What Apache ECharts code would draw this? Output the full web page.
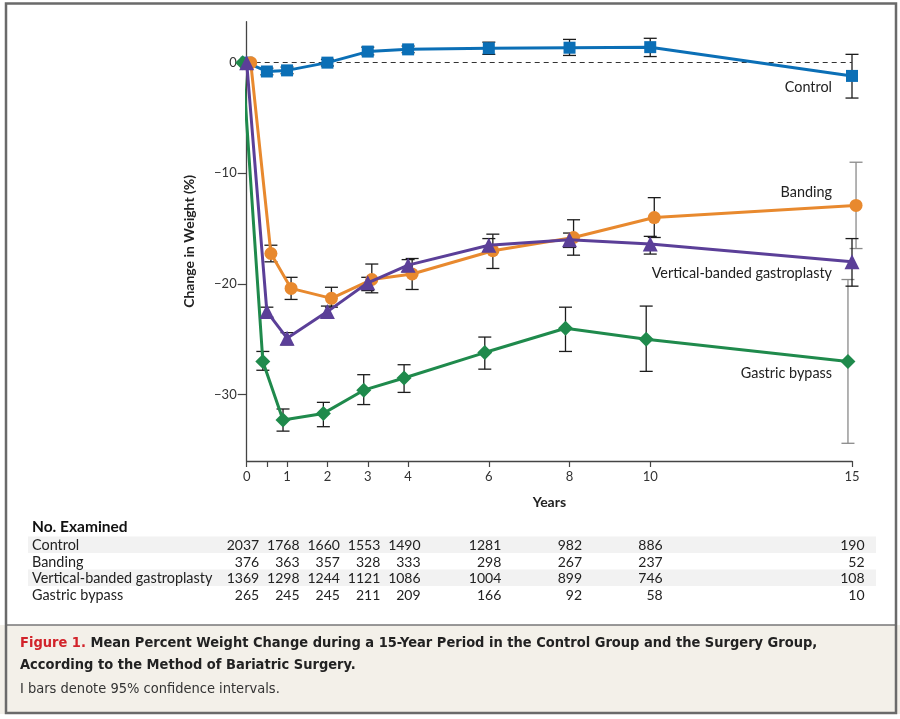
<!DOCTYPE html>
<html><head><meta charset="utf-8">
<script src="https://cdn.jsdelivr.net/npm/echarts@6/dist/echarts.min.js"></script>
<style>html,body{margin:0;padding:0;background:#fff}#c{width:900px;height:719px}</style>
</head><body><div id="c"></div>
<script>
// ---------- data ----------
const years = [0, 0.5, 1, 2, 3, 4, 6, 8, 10, 15];
const xTickValues = [0, 0.5, 1, 2, 3, 4, 6, 8, 10, 15];
const xLabelValues = [0, 1, 2, 3, 4, 6, 8, 10, 15];
const yTickValues = [-30, -20, -10, 0];
const seriesNames = ['Control', 'Banding', 'Vertical-banded gastroplasty', 'Gastric bypass'];

const controlMean = [0, -0.8, -0.7, 0.0, 1.0, 1.2, 1.3, 1.35, 1.4, -1.2];
const controlLo   = [0, -1.1, -1.0, -0.3, 0.7, 0.9, 0.75, 0.65, 0.55, -3.2];
const controlHi   = [0, -0.5, -0.4, 0.3, 1.4, 1.5, 1.85, 2.1, 2.2, 0.75];

const bandingMean = [0, -17.25, -20.4, -21.3, -19.6, -19.1, -17.0, -15.8, -14.0, -12.9];
const bandingLo   = [0, -18.0, -21.4, -22.1, -20.8, -20.5, -18.6, -17.4, -15.8, -16.8];
const bandingHi   = [0, -16.5, -19.4, -20.3, -18.2, -17.7, -15.5, -14.2, -12.2, -9.0];

const vbgMean = [0, -22.5, -24.9, -22.5, -19.9, -18.3, -16.5, -16.0, -16.4, -18.0];
const vbgLo   = [0, -23.0, -25.5, -23.1, -20.6, -18.9, -17.1, -16.7, -17.3, -20.2];
const vbgHi   = [0, -22.1, -24.4, -22.0, -19.4, -17.8, -15.9, -15.4, -15.7, -15.9];

const bypassMean = [0, -27.0, -32.3, -31.7, -29.6, -28.5, -26.2, -24.0, -25.0, -27.0];
const bypassLo   = [0, -27.8, -33.3, -32.9, -30.9, -29.8, -27.7, -26.1, -27.9, -34.4];
const bypassHi   = [0, -26.1, -31.3, -30.7, -28.2, -27.3, -24.8, -22.1, -22.0, -19.6];

const tableTitle = 'No. Examined';
const tableYears = [0, 1, 2, 3, 4, 6, 8, 10, 15];
const controlN = [2037, 1768, 1660, 1553, 1490, 1281, 982, 886, 190];
const bandingN = [376, 363, 357, 328, 333, 298, 267, 237, 52];
const vbgN     = [1369, 1298, 1244, 1121, 1086, 1004, 899, 746, 108];
const bypassN  = [265, 245, 245, 211, 209, 166, 92, 58, 10];

const captionRed = 'Figure 1.';
const captionLine1 = ' Mean Percent Weight Change during a 15-Year Period in the Control Group and the Surgery Group,';
const captionLine2 = 'According to the Method of Bariatric Surgery.';
const captionLine3 = 'I bars denote 95% confidence intervals.';
const xAxisName = 'Years';
const yAxisName = 'Change in Weight (%)';

// ---------- styles ----------
const FONT = 'Lato, "Open Sans", sans-serif';
const CAPFONT = '"Liberation Sans Narrow", "DejaVu Sans Condensed", sans-serif';
const groups = [
  {name: seriesNames[0], mean: controlMean, lo: controlLo, hi: controlHi, color: '#0b6fb6', symbol: 'rect', size: 12, dodge: 0, gray: []},
  {name: seriesNames[3], mean: bypassMean, lo: bypassLo, hi: bypassHi, color: '#1f8a4c', symbol: 'diamond', size: 15, dodge: -0.1, gray: [15]},
  {name: seriesNames[1], mean: bandingMean, lo: bandingLo, hi: bandingHi, color: '#e8892e', symbol: 'circle', size: 13, dodge: 0.1, gray: [15]},
  {name: seriesNames[2], mean: vbgMean, lo: vbgLo, hi: vbgHi, color: '#5b3f98', symbol: 'triangle', size: 15, dodge: 0, gray: []}
];

function errRender(g) {
  return function (params, api) {
    const t = api.value(0);
    const x = t + g.dodge;
    const p1 = api.coord([x, api.value(1)]);
    const p2 = api.coord([x, api.value(2)]);
    const c = g.gray.indexOf(t) >= 0 ? '#8a8a8a' : '#1c1c1c';
    const w = 6.5, lw = 1.3;
    return {type: 'group', children: [
      {type: 'line', shape: {x1: p1[0], y1: p1[1], x2: p2[0], y2: p2[1]}, style: {stroke: c, lineWidth: lw}},
      {type: 'line', shape: {x1: p1[0] - w, y1: p1[1], x2: p1[0] + w, y2: p1[1]}, style: {stroke: c, lineWidth: lw}},
      {type: 'line', shape: {x1: p2[0] - w, y1: p2[1], x2: p2[0] + w, y2: p2[1]}, style: {stroke: c, lineWidth: lw}}
    ]};
  };
}

const series = [];
groups.forEach(function (g) {
  series.push({
    type: 'custom', name: g.name + ' CI', z: 1, clip: false, silent: true,
    renderItem: errRender(g),
    encode: {x: 0, y: [1, 2]},
    data: years.map(function (t, i) { return [t, g.lo[i], g.hi[i]]; }).filter(function (d) { return d[1] !== d[2]; })
  });
});
groups.forEach(function (g, k) {
  const s = {
    type: 'line', name: g.name, z: 3 + k, clip: false, silent: true,
    symbol: g.symbol, symbolSize: g.size, showAllSymbol: true,
    lineStyle: {color: g.color, width: 3},
    itemStyle: {color: g.color, borderWidth: 0},
    data: years.map(function (t, i) { return [t + g.dodge, g.mean[i]]; })
  };
  if (k === 0) {
    s.markLine = {
      silent: true, symbol: 'none', z: 2,
      lineStyle: {color: '#333', type: [5, 4], width: 1},
      label: {show: false},
      data: [{yAxis: 0}]
    };
  }
  series.push(s);
});

const minus = function (v) { return String(v).replace('-', '\u2212'); };

const chart = echarts.init(document.getElementById('c'), null, {renderer: 'canvas'});
chart.setOption({
  backgroundColor: '#ffffff',
  animation: false,
  grid: {left: 246.7, right: 48, top: 21.7, bottom: 258, outerBoundsMode: 'none', containLabel: false},
  xAxis: {
    type: 'value', min: 0, max: 15,
    name: xAxisName, nameLocation: 'middle', nameGap: 34,
    nameTextStyle: {fontFamily: FONT, fontWeight: 'bold', fontSize: 14, color: '#222'},
    axisLine: {show: true, onZero: false, lineStyle: {color: '#444', width: 1.3}},
    axisTick: {show: true, length: 6, customValues: xTickValues, lineStyle: {color: '#444', width: 1.2}},
    axisLabel: {customValues: xLabelValues, margin: 9.5, fontFamily: FONT, fontSize: 13, color: '#333'},
    splitLine: {show: false}
  },
  yAxis: {
    type: 'value', min: -36, max: 3.7,
    name: yAxisName, nameLocation: 'middle', nameGap: 50, nameRotate: 90,
    nameTextStyle: {fontFamily: FONT, fontWeight: 'bold', fontSize: 14, color: '#222'},
    axisLine: {show: true, onZero: false, lineStyle: {color: '#444', width: 1.3}},
    axisTick: {show: true, length: 9, customValues: yTickValues, lineStyle: {color: '#444', width: 1.2}},
    axisLabel: {customValues: yTickValues, margin: 10, fontFamily: FONT, fontSize: 13, color: '#333', formatter: minus},
    splitLine: {show: false}
  },
  series: series
});

// ---------- annotations, table, caption ----------
const px = function (t) { return chart.convertToPixel({xAxisIndex: 0}, t); };
const graphics = [];
graphics.push({type: 'rect', z: -10, silent: true, shape: {x: 0, y: 625, width: 900, height: 90}, style: {fill: '#f3f0e9'}});
graphics.push({type: 'line', z: 50, silent: true, shape: {x1: 6, y1: 625, x2: 896, y2: 625}, style: {stroke: '#777', lineWidth: 1.5}});
graphics.push({type: 'rect', z: 50, silent: true, shape: {x: 6, y: 3.5, width: 890, height: 709.5}, style: {fill: null, stroke: '#6a6a6a', lineWidth: 2.5}});
graphics.push({type: 'rect', z: -10, silent: true, shape: {x: 0, y: 714, width: 900, height: 5}, style: {fill: '#fff'}});

const labelSpecs = [
  {text: seriesNames[0], y: 87},
  {text: seriesNames[1], y: 192},
  {text: seriesNames[2], y: 273},
  {text: seriesNames[3], y: 373}
];
labelSpecs.forEach(function (l) {
  graphics.push({type: 'text', z: 20, silent: true, x: 832, y: l.y,
    style: {text: l.text, fontFamily: FONT, fontSize: 14.4, fill: '#222', textAlign: 'right', textVerticalAlign: 'middle'}});
});

graphics.push({type: 'text', silent: true, x: 32, y: 527,
  style: {text: tableTitle, fontFamily: FONT, fontWeight: 'bold', fontSize: 15.5, fill: '#111', textVerticalAlign: 'middle'}});
const rows = [
  {name: seriesNames[0], n: controlN, y: 545, stripe: true},
  {name: seriesNames[1], n: bandingN, y: 562, stripe: false},
  {name: seriesNames[2], n: vbgN, y: 578, stripe: true},
  {name: seriesNames[3], n: bypassN, y: 595, stripe: false}
];
rows.forEach(function (r) {
  if (r.stripe) {
    graphics.push({type: 'rect', z: -5, silent: true, shape: {x: 28, y: r.y - 8.5, width: 848, height: 16.5}, style: {fill: '#f2f2f2'}});
  }
  graphics.push({type: 'text', silent: true, x: 32, y: r.y,
    style: {text: r.name, fontFamily: FONT, fontSize: 14.4, fill: '#222', textVerticalAlign: 'middle'}});
  r.n.forEach(function (v, i) {
    graphics.push({type: 'text', silent: true, x: px(tableYears[i]) + 12.5, y: r.y,
      style: {text: String(v), fontFamily: FONT, fontSize: 14, fill: '#222', textAlign: 'right', textVerticalAlign: 'middle'}});
  });
});

graphics.push({type: 'text', silent: true, x: 20, y: 643,
  style: {
    text: '{r|' + captionRed + '}{b|' + captionLine1 + '}',
    textVerticalAlign: 'middle',
    rich: {
      r: {fontFamily: CAPFONT, fontWeight: 'bold', fontSize: 14.5, fill: '#d2232a'},
      b: {fontFamily: CAPFONT, fontWeight: 'bold', fontSize: 14.5, fill: '#222'}
    }
  }});
graphics.push({type: 'text', silent: true, x: 20, y: 665,
  style: {text: captionLine2, fontFamily: CAPFONT, fontWeight: 'bold', fontSize: 14.5, fill: '#222', textVerticalAlign: 'middle'}});
graphics.push({type: 'text', silent: true, x: 20, y: 689,
  style: {text: captionLine3, fontFamily: CAPFONT, fontSize: 14.5, fill: '#333', textVerticalAlign: 'middle'}});

chart.setOption({graphic: {elements: graphics}});
</script>
</body></html>
